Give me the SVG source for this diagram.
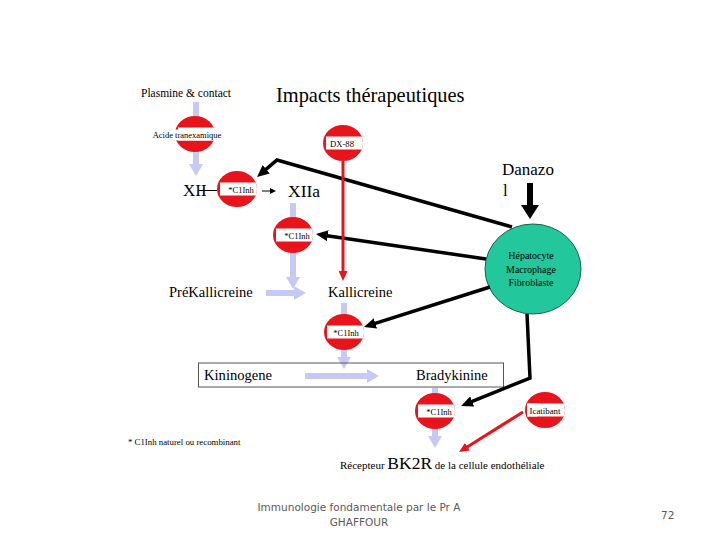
<svg xmlns="http://www.w3.org/2000/svg" xmlns:xlink="http://www.w3.org/1999/xlink" width="720" height="540" viewBox="0 0 720 540">
<style>
.t{font-family:"Liberation Serif","Times New Roman",serif;fill:#000}
.lav{stroke:#c8c8f4;stroke-width:6;fill:none}
.blk{stroke:#000;stroke-width:3.5;fill:none;stroke-linejoin:miter}
.red{stroke:#e8141b;stroke-width:3;fill:none}
.foot{font-family:"DejaVu Sans",Verdana,sans-serif;fill:#595959;font-size:10.5px}
</style>
<defs>
<clipPath id="cp"><ellipse cx="0" cy="0" rx="20" ry="18"/></clipPath>
<g id="stop"><ellipse cx="0" cy="0" rx="20" ry="18" fill="#e8141b"/><rect x="-17" y="-6.5" width="37" height="13" fill="#fff" clip-path="url(#cp)"/></g>
<marker id="mb" markerUnits="userSpaceOnUse" viewBox="0 0 12 11" refX="6" refY="5.5" markerWidth="12" markerHeight="11" orient="auto"><path d="M0,0 L12,5.5 L0,11 z" fill="#000"/></marker>
<marker id="mr" markerUnits="userSpaceOnUse" viewBox="0 0 10 9" refX="5" refY="4.5" markerWidth="10" markerHeight="9" orient="auto"><path d="M0,0 L10,4.5 L0,9 z" fill="#e8141b"/></marker>
<marker id="ml" markerUnits="userSpaceOnUse" viewBox="0 0 12 14" refX="1" refY="7" markerWidth="12" markerHeight="14" orient="auto"><path d="M0,0 L12,7 L0,14 z" fill="#c8c8f4"/></marker>
<marker id="ms" markerUnits="userSpaceOnUse" viewBox="0 0 6 6" refX="1" refY="3" markerWidth="6" markerHeight="6" orient="auto"><path d="M0,0 L6,3 L0,6 z" fill="#000"/></marker>
</defs>
<rect width="720" height="540" fill="#fff"/>

<g id="flow">
<line class="lav" x1="196" y1="102" x2="196" y2="117"/>
<line class="lav" x1="196" y1="151" x2="196" y2="165" marker-end="url(#ml)"/>
<line class="lav" x1="293" y1="203" x2="293" y2="219"/>
<line class="lav" x1="293" y1="252" x2="293" y2="278" marker-end="url(#ml)"/>
<line class="lav" x1="266" y1="293" x2="295" y2="293" marker-end="url(#ml)"/>
<line class="lav" x1="344" y1="303" x2="344" y2="316"/>
<line class="lav" x1="344" y1="349" x2="344" y2="358" marker-end="url(#ml)"/>
<line class="lav" x1="305" y1="376" x2="368" y2="376" marker-end="url(#ml)"/>
<line class="lav" x1="435" y1="388" x2="435" y2="395"/>
<line class="lav" x1="435" y1="428" x2="435" y2="437" marker-end="url(#ml)"/>
</g>

<g id="box"><rect x="198.5" y="363" width="305" height="24" fill="none" stroke="#555" stroke-width="1"/></g>

<g id="n-plasmine"><text class="t" x="141" y="97" font-size="11.5">Plasmine &amp; contact</text></g>
<g id="n-title"><text class="t" x="276" y="102" font-size="20.4">Impacts thérapeutiques</text></g>
<g id="n-acide"><use xlink:href="#stop" x="195" y="134"/><rect x="150" y="129.5" width="75" height="11" fill="#fff"/><text class="t" x="187" y="138" font-size="8.5" text-anchor="middle">Acide tranexamique</text></g>
<g id="n-dx88"><use xlink:href="#stop" x="343" y="143"/><text class="t" x="342" y="146.5" font-size="8.6" text-anchor="middle">DX-88</text></g>
<g id="n-xii"><text class="t" x="183" y="196" font-size="17">XII</text></g>
<g id="n-c1inh1"><use xlink:href="#stop" x="237" y="189"/><text class="t" x="241" y="192.5" font-size="8.5" text-anchor="middle">*C1Inh</text></g>
<g id="n-xiia"><text class="t" x="288" y="196.5" font-size="17.5">XIIa</text></g>
<g id="n-danazol"><text class="t" x="502" y="175" font-size="17">Danazo</text><text class="t" x="503" y="196" font-size="17">l</text></g>
<g id="n-c1inh2"><use xlink:href="#stop" x="293" y="235"/><text class="t" x="297" y="238.5" font-size="8.5" text-anchor="middle">*C1Inh</text></g>
<g id="n-cells"><ellipse cx="533" cy="269" rx="48" ry="45" fill="#22c89b" stroke="#1d5e4c" stroke-width="1"/>
<text class="t" x="531" y="259" font-size="10" text-anchor="middle">Hépatocyte</text>
<text class="t" x="531" y="272.5" font-size="10" text-anchor="middle">Macrophage</text>
<text class="t" x="531" y="286" font-size="10" text-anchor="middle">Fibroblaste</text></g>
<g id="n-prekal"><text class="t" x="169" y="297" font-size="14.5">PréKallicreine</text></g>
<g id="n-kal"><text class="t" x="328" y="297" font-size="14.5">Kallicreine</text></g>
<g id="n-c1inh3"><use xlink:href="#stop" x="344" y="332"/><text class="t" x="346" y="335.5" font-size="8.5" text-anchor="middle">*C1Inh</text></g>
<g id="n-kinin"><text class="t" x="204" y="379.5" font-size="14.6">Kininogene</text></g>
<g id="n-brady"><text class="t" x="416" y="379.5" font-size="14.5">Bradykinine</text></g>
<g id="n-c1inh4"><use xlink:href="#stop" x="435" y="411"/><text class="t" x="439" y="414.5" font-size="8.5" text-anchor="middle">*C1Inh</text></g>
<g id="n-icatibant"><use xlink:href="#stop" x="545" y="410"/><rect x="527" y="403.5" width="10" height="13" fill="#fff"/><text class="t" x="545" y="413.5" font-size="8.8" text-anchor="middle">Icatibant</text></g>
<g id="n-note"><text class="t" x="128" y="445" font-size="8.8">* C1Inh naturel ou recombinant</text></g>
<g id="n-bk2r"><text class="t" x="340" y="469" font-size="11"><tspan>Récepteur </tspan><tspan font-size="17.5">BK2R</tspan><tspan> de la cellule endothéliale</tspan></text></g>

<g id="connectors">
<line x1="199" y1="190.5" x2="217" y2="190.5" stroke="#000" stroke-width="1"/>
<line x1="262" y1="191" x2="271" y2="191" stroke="#000" stroke-width="1" marker-end="url(#ms)"/>
<line x1="530" y1="183" x2="530" y2="206" stroke="#000" stroke-width="6"/>
<path d="M521,205 L539,205 L530,219 z" fill="#000"/>
<polyline class="blk" points="512,227 277,160 261.6,173.1" marker-end="url(#mb)"/>
<line class="blk" x1="486" y1="259" x2="321.9" y2="234.9" marker-end="url(#mb)"/>
<line class="blk" x1="490" y1="287" x2="369.7" y2="325.2" marker-end="url(#mb)"/>
<polyline class="blk" points="527,314 530,378 466.6,403.7" marker-end="url(#mb)"/>
<line class="red" x1="343" y1="161" x2="343" y2="276" marker-end="url(#mr)"/>
<line class="red" x1="523" y1="412" x2="463.2" y2="449.4" marker-end="url(#mr)"/>
</g>

<g id="footer">
<text class="foot" x="359" y="511" text-anchor="middle">Immunologie fondamentale par le Pr A</text>
<text class="foot" x="359" y="526" text-anchor="middle">GHAFFOUR</text>
<text class="foot" x="661" y="519" font-size="11">72</text>
</g>
</svg>
